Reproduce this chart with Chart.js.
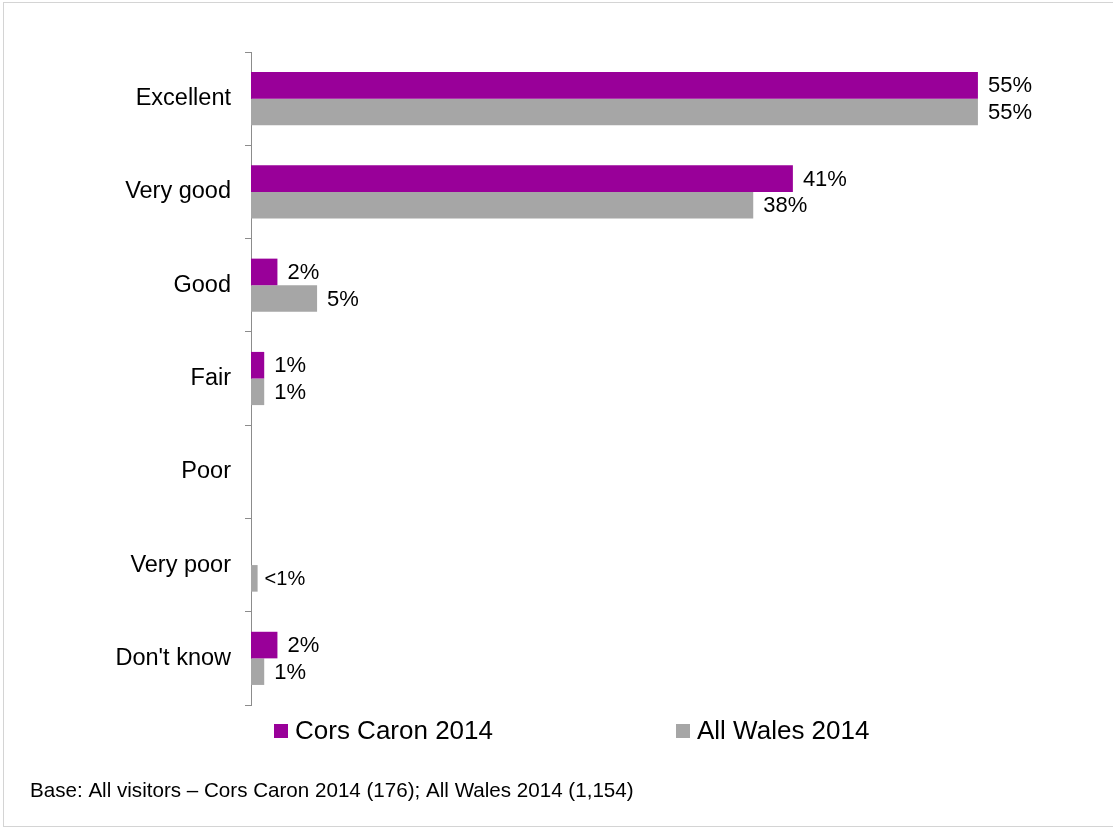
<!DOCTYPE html>
<html lang="en">
<head>
    <meta charset="UTF-8">
    <title>Visitor rating</title>
    <style>
        body {
            margin: 0;
            background: #ffffff;
            font-family: "Liberation Sans", Arial, sans-serif;
        }
        .frame {
            position: absolute;
            left: 3px;
            top: 2px;
            width: 1130px;
            height: 823px;
            border: 1px solid #d4d4d4;
        }
        .wrap {
            position: absolute;
            left: 0;
            top: 0;
            width: 1113px;
            height: 828px;
        }
    </style>
</head>
<body>
    <div class="frame"></div>
    <div class="wrap">
        <canvas id="chart"></canvas>
    </div>

    <script src="https://cdn.jsdelivr.net/npm/chart.js"></script>
    <script>
        const categories = ['Excellent', 'Very good', 'Good', 'Fair', 'Poor', 'Very poor', "Don't know"];
        const corsCaron = [55, 41, 2, 1, null, null, 2];
        const allWales = [55, 38, 5, 1, null, 0.5, 1];
        const seriesNames = ['Cors Caron 2014', 'All Wales 2014'];
        const footnote = 'Base: All visitors \u2013 Cors Caron 2014 (176); All Wales 2014 (1,154)';

        const FONT = '"Liberation Sans", Arial, sans-serif';

        function pctLabel(v) {
            return v < 1 ? '<1%' : v + '%';
        }

        // value labels to the right of each bar
        const barLabels = {
            id: 'barLabels',
            afterDatasetsDraw(chart) {
                const ctx = chart.ctx;
                ctx.save();
                ctx.fillStyle = '#000';
                ctx.textAlign = 'left';
                ctx.textBaseline = 'middle';
                chart.data.datasets.forEach((ds, i) => {
                    chart.getDatasetMeta(i).data.forEach((bar, j) => {
                        const v = ds.data[j];
                        if (v === null || v === undefined) return;
                        const small = v < 1;
                        ctx.font = (small ? '20px ' : '22px ') + FONT;
                        ctx.fillText(pctLabel(v), bar.x + (small ? 7 : 10), bar.y + 1);
                    });
                });
                ctx.restore();
            }
        };

        // legend row and base note under the plot
        const bottomKey = {
            id: 'bottomKey',
            afterDraw(chart, args, opts) {
                const ctx = chart.ctx;
                ctx.save();
                ctx.textBaseline = 'middle';
                ctx.textAlign = 'left';
                chart.data.datasets.forEach((ds, i) => {
                    const x = opts.itemX[i];
                    ctx.fillStyle = ds.backgroundColor;
                    ctx.fillRect(x, opts.itemY - 7, 14, 14);
                    ctx.fillStyle = '#000';
                    ctx.font = '26px ' + FONT;
                    ctx.fillText(ds.label, x + 21, opts.itemY + 1);
                });
                ctx.font = '20.6px ' + FONT;
                ctx.fillStyle = '#000';
                ctx.fillText(footnote, opts.noteX, opts.noteY);
                ctx.restore();
            }
        };

        new Chart(document.getElementById('chart'), {
            type: 'bar',
            data: {
                labels: categories,
                datasets: [
                    {
                        label: seriesNames[0],
                        data: corsCaron,
                        backgroundColor: '#990099'
                    },
                    {
                        label: seriesNames[1],
                        data: allWales,
                        backgroundColor: '#a6a6a6'
                    }
                ]
            },
            options: {
                indexAxis: 'y',
                responsive: true,
                maintainAspectRatio: false,
                animation: false,
                datasets: {
                    bar: {
                        barPercentage: 1,
                        categoryPercentage: 0.57
                    }
                },
                layout: {
                    padding: { top: 52, right: 69, bottom: 123, left: 0 }
                },
                scales: {
                    x: {
                        display: false,
                        min: 0,
                        max: 60
                    },
                    y: {
                        afterFit(scale) {
                            scale.width = 251;
                        },
                        grid: {
                            offset: true,
                            drawOnChartArea: false,
                            tickLength: 6,
                            color: '#8c8c8c'
                        },
                        border: {
                            display: true,
                            color: '#8c8c8c',
                            width: 1
                        },
                        ticks: {
                            color: '#000',
                            padding: 14,
                            font: { family: FONT, size: 23.5 }
                        }
                    }
                },
                plugins: {
                    legend: { display: false },
                    tooltip: { enabled: false },
                    bottomKey: {
                        itemX: [274, 676],
                        itemY: 731,
                        noteX: 30,
                        noteY: 791
                    }
                }
            },
            plugins: [barLabels, bottomKey]
        });
    </script>
</body>
</html>
